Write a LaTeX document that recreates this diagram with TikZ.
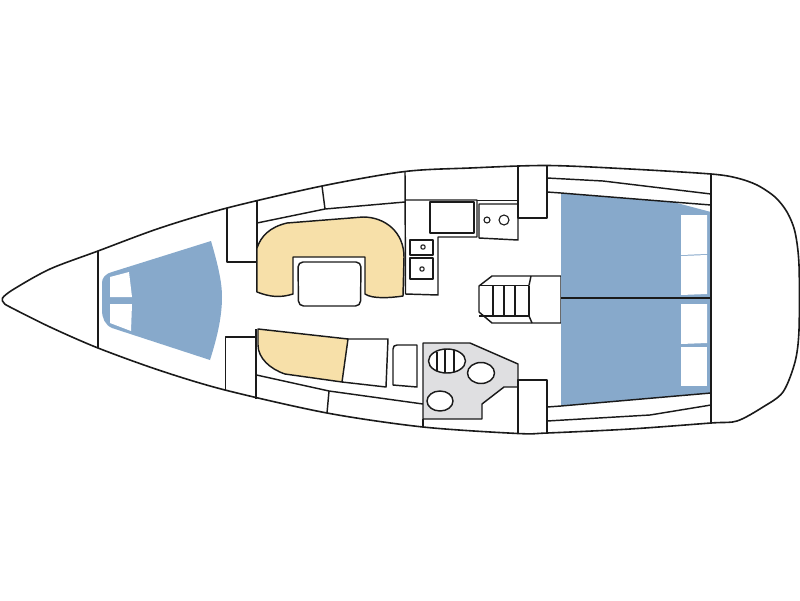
\documentclass[tikz,border=0pt]{standalone}
\definecolor{cabinblue}{HTML}{87A9CB}
\definecolor{cushion}{HTML}{F7E0A9}
\definecolor{sole}{HTML}{DFDFE1}
\definecolor{ink}{HTML}{1A1A1A}
\tikzset{
  plan/.style={draw=ink,line width=1.45pt,line join=round},
  bunk/.style={fill=cabinblue},
  berthgap/.style={fill=white},
  seat/.style={plan,fill=cushion}
}
\begin{document}
\begin{tikzpicture}[x=1pt,y=-1pt]
\useasboundingbox (0,0) rectangle (800,600);
% hull
\draw[plan,line width=1.6pt] plot[smooth cycle,tension=0.5] coordinates {
 (2.5,298) (14,289) (50,269) (98,251) (160,228) (227,208) (322,186) (405,171.5) (470,168) (547,165.5)
 (630,169) (711,174) (737,178) (757,185) (775,197) (787,212) (795,232) (799,265) (799,330) (795,362) (783,392) (763,407)
 (737,421) (711,423) (630,429) (547,433) (518,433.5) (423,427) (327,413) (225,390) (160,370.5) (98,348) (50,327) (10,307) (4,303)};
% forward cabin
\fill[bunk] (211,241) .. controls (218,265) and (222,282) .. (222,297) .. controls (222,315) and (218,335) .. (210,360)
 -- (112,328) .. controls (105,325) and (102,318) .. (102,310) -- (102,283) .. controls (102,278) and (105,274) .. (112,272) -- cycle;
\fill[berthgap] (110,277) -- (129,272) -- (132,297) -- (110,297) -- cycle;
\fill[berthgap] (110,304) -- (132,304) -- (131,331) -- (110,323) -- cycle;
\draw[plan] (98,251) -- (98,348);
\draw[plan] (227,208) -- (227,262) -- (257,262);
\draw[plan] (257,200) -- (257,292);
\draw[plan] (225.5,390) -- (225.5,337) -- (256,337);
\draw[plan] (256,399) -- (256,329);
% settee, upper
\draw[plan] (257,223) -- (325,209) -- (405,202);
\draw[plan] (322,186) -- (325,209);
\draw[seat] (257,248) .. controls (261,236) and (270,227) .. (287,223) -- (363,217) .. controls (385,217) and (404,232) .. (404,257)
 -- (403,296) .. controls (390,298) and (372,299) .. (365,294) -- (365,257) -- (293,257) -- (293,294) .. controls (280,298) and (270,297) .. (257,292) -- cycle;
\draw[plan,rounded corners=5pt] (298,262) -- (361,262) -- (360.5,306) -- (298.5,306) -- cycle;
% settee, lower
\draw[seat] (258,329) -- (348,339) -- (342,382) -- (285,374) .. controls (270,369) and (258,358) .. (258,345) -- cycle;
\draw[plan] (348,339) -- (388,339) -- (386,387) -- (342,382);
\draw[plan] (393,385) -- (393,349) .. controls (393,346.5) and (394.5,345) .. (397,345) -- (417,345) -- (417,387) -- cycle;
\draw[plan] (256.5,375) -- (329,391) -- (423,404);
\draw[plan] (329,391) -- (327,413);
% galley
\draw[plan] (405,171) -- (405.5,294) -- (438,295) -- (438,237) -- (477,237) -- (477,200) -- (405.5,200);
\draw[plan] (430,202) -- (474,202) -- (474,233) -- (430,233) -- cycle;
\draw[plan] (477,200.5) -- (518,200.5);
\draw[plan] (479,204) -- (518,204) -- (518,240) -- (479,238) -- cycle;
\draw[plan,line width=1.1pt] (487,220) circle[radius=3];
\draw[plan,line width=1.1pt] (504,220) circle[radius=5];
\draw[plan] (410,240) -- (433,240) -- (433,255) -- (410,255) -- cycle;
\draw[plan] (410,258) -- (433,258) -- (433,279) -- (410,279) -- cycle;
\draw[plan,line width=1.1pt] (423,247) circle[radius=2.2];
\draw[plan,line width=1.1pt] (422,269) circle[radius=2.2];
% heads
\draw[plan,fill=sole] (423,343) -- (470,343) -- (518,364) -- (518,387) -- (504,387) -- (482,404) -- (482,419) -- (423,419) -- cycle;
\draw[plan] (423,419) -- (423,427);
\draw[plan,fill=white] (447,361) ellipse[x radius=18.5,y radius=12];
\draw[plan,line width=1.1pt] (437,351.5) -- (437,370.5) (445,349) -- (445,373) (454,350) -- (454,372);
\draw[plan,fill=white] (481,373) ellipse[x radius=13.5,y radius=10.5];
\draw[plan,fill=white] (440,401) ellipse[x radius=13,y radius=10];
% companionway steps
\draw[plan] (479,286) -- (492,276) -- (561,276) -- (561,323) -- (492,323) -- (479,312) -- cycle;
\draw[plan] (479,285.5) -- (529,285.5) (479,316) -- (529,316);
\draw[plan] (493,285.5) -- (493,316) (504,285.5) -- (504,316) (515,285.5) -- (515,316) (529,285.5) -- (529,316);
\draw[plan] (529,285.5) -- (531,276) (529,316) -- (532,323);
% aft cabin
\fill[bunk] (561,193) -- (673,202) -- (711,212) -- (711,393) -- (561,406) -- cycle;
\fill[berthgap] (681,215) -- (707,215) -- (707,254) -- (681,255) -- cycle;
\fill[berthgap] (681,256) -- (707,255) -- (707,294) -- (681,295) -- cycle;
\fill[berthgap] (681,304) -- (707,304) -- (707,343) -- (681,344) -- cycle;
\fill[berthgap] (681,347) -- (707,347) -- (707,386) -- (681,386) -- cycle;
\draw[plan] (561,298) -- (711,298);
\draw[plan] (518,167) -- (518,218) -- (547,218) -- (547,165.5);
\draw[plan] (518,433.5) -- (518,380) -- (547,380) -- (547,433);
\draw[plan] (547,178) -- (603,181) -- (711,194);
\draw[plan] (547,192) -- (561,193) -- (673,202) -- (711,205);
\draw[plan] (547,421) -- (650,415) -- (711,405);
\draw[plan] (547,407) -- (561,406) -- (711,393);
\draw[plan] (711,174) -- (711,423);
\end{tikzpicture}
\end{document}
